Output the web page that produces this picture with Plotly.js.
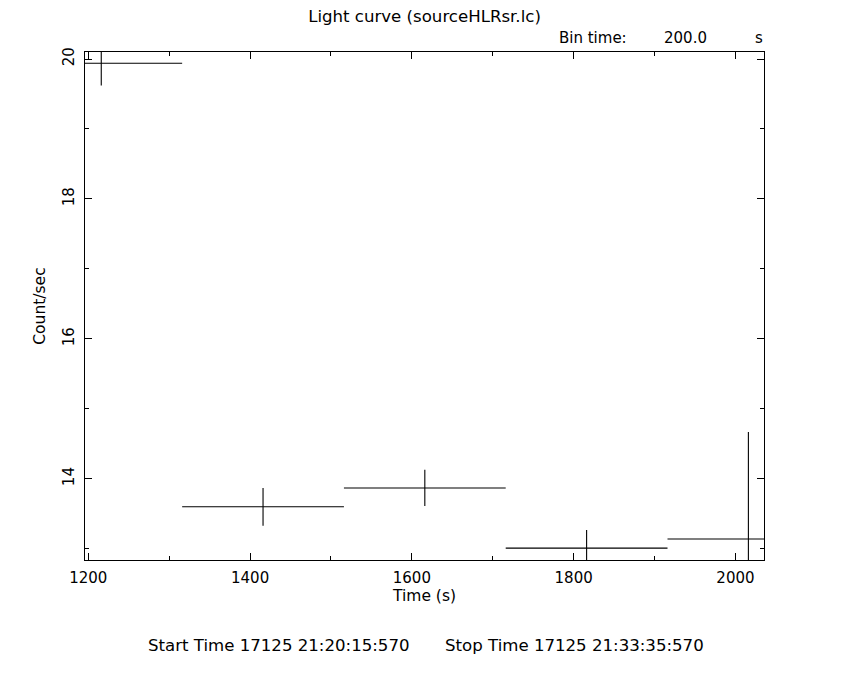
<!DOCTYPE html>
<html>
<head>
<meta charset="utf-8">
<script src="https://cdn.plot.ly/plotly-3.0.1.min.js"></script>
<style>
html,body{margin:0;padding:0;background:#fff;}
#chart{width:850px;height:680px;}
</style>
</head>
<body>
<div id="chart"></div>
<script>
// Light curve data (bin centres in s, rate in count/s, 1-sigma errors)
const binTimes = [1216, 1416, 1616, 1816, 2016];
const countRates = [19.94, 13.60, 13.87, 13.01, 13.14];
const rateErrors = [0.32, 0.27, 0.26, 0.26, 1.53];
const halfBinWidths = [100, 100, 100, 100, 100];

const titleText = "Light curve (sourceHLRsr.lc)";
const binLabel = "Bin time:";
const binValue = "200.0";
const binUnit = "s";
const startText = "Start Time 17125 21:20:15:570";
const stopText = "Stop Time 17125 21:33:35:570";

const FONT = "DejaVu Sans, Liberation Sans, sans-serif";

const trace = {
  type: "scatter",
  mode: "markers",
  x: binTimes,
  y: countRates,
  marker: {size: 2, color: "rgba(0,0,0,0)"},
  error_x: {type: "data", array: halfBinWidths, symmetric: true, color: "#000", thickness: 1.1, width: 0},
  error_y: {type: "data", array: rateErrors, symmetric: true, color: "#000", thickness: 1.1, width: 0},
  hoverinfo: "none",
  showlegend: false
};

const axisCommon = {
  showline: true, linecolor: "#000", linewidth: 1.3, mirror: "ticks",
  ticks: "inside", ticklen: 7, tickwidth: 1, tickcolor: "#000",
  showgrid: false, zeroline: false,
  tickfont: {family: FONT, size: 15, color: "#000"}
};

const PH = 508.3, PW = 679;
const annFont = {family: FONT, size: 15, color: "#000"};
const footFont = {family: FONT, size: 16.6, color: "#000"};

const layout = {
  width: 850, height: 680,
  paper_bgcolor: "#fff", plot_bgcolor: "#fff",
  margin: {l: 85, r: 86, t: 52, b: 120},
  title: {text: titleText, font: {family: FONT, size: 16.6, color: "#000"},
          x: 0.5, xref: "paper", y: 1 - 16/680, yref: "container", yanchor: "middle"},
  xaxis: Object.assign({}, axisCommon, {
    range: [1195.9, 2035.3], dtick: 200, tick0: 1200,
    minor: {ticks: "inside", ticklen: 4, dtick: 100, tick0: 1200, tickcolor: "#000", tickwidth: 1},
    title: {text: "Time (s)", font: {family: FONT, size: 15.5, color: "#000"}, standoff: 2},
    ticklabelstandoff: 4
  }),
  yaxis: Object.assign({}, axisCommon, {
    range: [12.84, 20.1], dtick: 2, tick0: 14, tickangle: -90,
    minor: {ticks: "inside", ticklen: 4, dtick: 1, tick0: 13, tickcolor: "#000", tickwidth: 1},
    title: {text: "Count/sec", font: {family: FONT, size: 15.5, color: "#000"}, standoff: 10},
    ticklabelstandoff: 4
  }),
  annotations: [
    {text: binLabel, xref: "paper", yref: "paper", x: (557-85)/PW, y: 1 + (52-38)/PH,
     xanchor: "left", yanchor: "middle", showarrow: false, font: annFont},
    {text: binValue, xref: "paper", yref: "paper", x: (662-85)/PW, y: 1 + (52-38)/PH,
     xanchor: "left", yanchor: "middle", showarrow: false, font: annFont},
    {text: binUnit, xref: "paper", yref: "paper", x: (753-85)/PW, y: 1 + (52-38)/PH,
     xanchor: "left", yanchor: "middle", showarrow: false, font: annFont},
    {text: startText, xref: "paper", yref: "paper", x: (146-85)/PW, y: -(646-560)/PH,
     xanchor: "left", yanchor: "middle", showarrow: false, font: footFont},
    {text: stopText, xref: "paper", yref: "paper", x: (443-85)/PW, y: -(646-560)/PH,
     xanchor: "left", yanchor: "middle", showarrow: false, font: footFont}
  ]
};

Plotly.newPlot("chart", [trace], layout, {staticPlot: true, displayModeBar: false});
</script>
</body>
</html>
